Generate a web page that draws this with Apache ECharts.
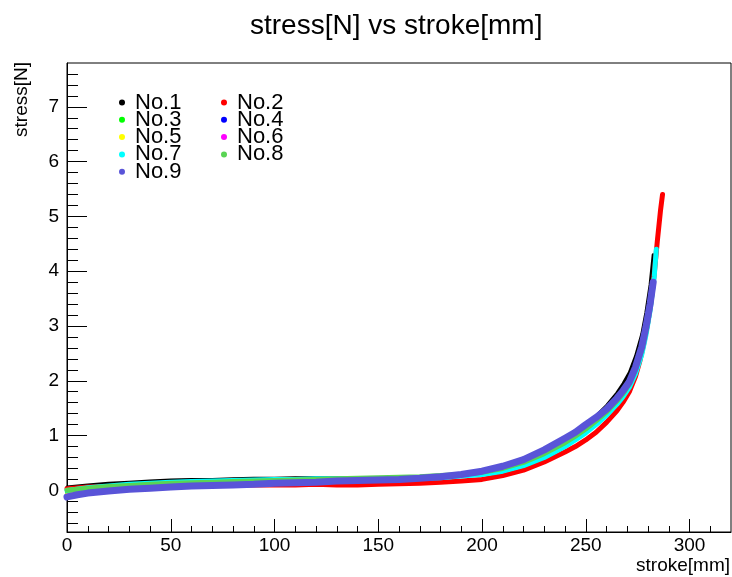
<!DOCTYPE html>
<html>
<head>
<meta charset="utf-8">
<script src="https://cdn.jsdelivr.net/npm/echarts@6/dist/echarts.min.js"></script>
<style>html,body{margin:0;padding:0;background:#fff;}#c{width:732px;height:577px;}</style>
</head>
<body>
<div id="c"></div>
<script>
// ---- data (stroke [mm], stress [N]) ----
const seriesNames = ['No.1','No.2','No.3','No.4','No.5','No.6','No.7','No.8','No.9'];
const legendCol1 = ['No.1','No.3','No.5','No.7','No.9'];
const legendCol2 = ['No.2','No.4','No.6','No.8'];

const no1 = [[0,0.06],[10,0.1],[20,0.13],[30,0.15],[40,0.17],[50,0.19],[60,0.2],[70,0.2],[80,0.21],[90,0.22],[100,0.22],[110,0.23],[120,0.23],[130,0.23],[140,0.23],[150,0.23],[160,0.24],[170,0.25],[180,0.27],[190,0.3],[200,0.35],[210,0.43],[220,0.55],[230,0.72],[240,0.93],[245,1.06],[250,1.2],[255,1.36],[260,1.55],[265,1.78],[268,1.95],[271,2.15],[274,2.45],[277,2.85],[279,3.25],[281,3.75],[282.5,4.3]];
const no2 = [[0,0.03],[10,0.06],[20,0.07],[30,0.08],[40,0.09],[50,0.09],[60,0.1],[70,0.1],[80,0.1],[90,0.1],[100,0.1],[110,0.1],[120,0.11],[130,0.1],[140,0.1],[150,0.11],[160,0.12],[170,0.13],[180,0.15],[190,0.17],[200,0.2],[210,0.27],[220,0.37],[230,0.52],[240,0.7],[245,0.8],[250,0.92],[255,1.06],[260,1.24],[265,1.45],[268,1.61],[271,1.8],[274,2.08],[276,2.35],[278,2.68],[280,3.08],[281.5,3.45],[283,3.95],[284.5,4.55],[286,5.1],[287,5.4]];
const no3 = [[0,-0.04],[10,0.0],[20,0.03],[40,0.07],[60,0.1],[80,0.12],[100,0.14],[120,0.16],[140,0.19],[160,0.21],[180,0.25],[200,0.33],[210,0.41],[220,0.53],[230,0.7],[240,0.9],[250,1.15],[260,1.46],[265,1.66],[268,1.8],[271,1.96],[274,2.22],[277,2.58],[279,2.93],[281,3.36]];
const no4 = [[0,-0.1],[10,-0.04],[20,0.0],[40,0.05],[60,0.08],[80,0.11],[100,0.13],[120,0.15],[140,0.18],[160,0.2],[180,0.25],[200,0.34],[210,0.43],[220,0.55],[230,0.72],[240,0.93],[250,1.18],[260,1.47],[265,1.67],[268,1.81],[271,1.97],[274,2.24],[277,2.6],[279,2.95],[281,3.38]];
const no5 = [[0,-0.08],[10,-0.03],[20,0.0],[40,0.04],[60,0.08],[80,0.1],[100,0.12],[120,0.15],[140,0.18],[160,0.2],[180,0.24],[200,0.34],[210,0.42],[220,0.54],[230,0.72],[240,0.93],[250,1.17],[260,1.46],[265,1.66],[268,1.8],[271,1.96],[274,2.23],[277,2.59],[279,2.94],[281,3.36]];
const no6 = [[0,-0.11],[10,-0.05],[20,-0.01],[40,0.04],[60,0.08],[80,0.1],[100,0.13],[120,0.15],[140,0.18],[160,0.2],[180,0.25],[200,0.35],[210,0.44],[220,0.56],[230,0.73],[240,0.94],[250,1.19],[260,1.48],[265,1.68],[268,1.82],[271,1.98],[274,2.25],[277,2.61],[279,2.96],[281,3.39]];
const no7 = [[0,0.0],[10,0.05],[20,0.08],[30,0.11],[40,0.13],[50,0.15],[60,0.16],[70,0.17],[80,0.18],[90,0.19],[100,0.2],[110,0.2],[120,0.21],[130,0.21],[140,0.21],[150,0.21],[160,0.21],[170,0.22],[180,0.23],[190,0.26],[200,0.29],[210,0.35],[220,0.45],[230,0.6],[240,0.8],[245,0.92],[250,1.05],[255,1.2],[260,1.37],[265,1.57],[268,1.71],[271,1.88],[274,2.13],[277,2.48],[279,2.83],[281,3.28],[283,3.9],[284,4.4]];
const no8 = [[0,0.0],[10,0.04],[20,0.07],[30,0.09],[40,0.11],[50,0.13],[60,0.14],[70,0.15],[80,0.16],[90,0.17],[100,0.18],[110,0.19],[120,0.2],[130,0.21],[140,0.22],[150,0.23],[160,0.24],[170,0.25],[180,0.27],[190,0.29],[200,0.33],[210,0.4],[220,0.51],[230,0.67],[240,0.87],[245,0.99],[250,1.12],[255,1.27],[260,1.43],[265,1.63],[268,1.77],[271,1.94],[274,2.2],[277,2.56],[279,2.9],[281,3.35],[282.5,3.75]];
const no9 = [[0,-0.12],[5,-0.08],[10,-0.05],[20,-0.01],[30,0.02],[40,0.04],[50,0.06],[60,0.08],[70,0.09],[80,0.1],[90,0.11],[100,0.13],[110,0.14],[120,0.15],[130,0.17],[140,0.18],[150,0.19],[160,0.2],[170,0.22],[180,0.25],[190,0.29],[200,0.35],[210,0.44],[220,0.56],[230,0.74],[240,0.95],[245,1.06],[250,1.2],[255,1.33],[260,1.48],[265,1.68],[268,1.82],[271,1.98],[274,2.25],[277,2.62],[279,2.98],[281,3.4],[282.5,3.8]];

const xMajorTicks = [0,50,100,150,200,250,300];
const xMinorTicks = [10,20,30,40,60,70,80,90,110,120,130,140,160,170,180,190,210,220,230,240,260,270,280,290,310];
const yMajorTicks = [0,1,2,3,4,5,6,7];
const yMinorTicks = [-0.6,-0.4,-0.2,0.2,0.4,0.6,0.8,1.2,1.4,1.6,1.8,2.2,2.4,2.6,2.8,3.2,3.4,3.6,3.8,4.2,4.4,4.6,4.8,5.2,5.4,5.6,5.8,6.2,6.4,6.6,6.8,7.2,7.4,7.6];

const seriesData = [no1,no2,no3,no4,no5,no6,no7,no8,no9];
const seriesColors = ['#000000','#ff0000','#00ff00','#0000ff','#ffff00','#ff00ff','#00ffff','#59d454','#5954d8'];
const seriesWidths = [3,5,4,4,4,4,5,5,7];

const FONT = 'Liberation Sans, Arial, Helvetica, sans-serif';
const chart = echarts.init(document.getElementById('c'), null, {renderer:'canvas'});

const xBase = {type:'value', min:0, max:320, gridIndex:0, position:'bottom', splitLine:{show:false}};
const yBase = {type:'value', min:-0.76, max:7.8, gridIndex:0, position:'left', splitLine:{show:false}};

const option = {
  backgroundColor:'#ffffff',
  animation:false,
  title:{text:'stress[N] vs stroke[mm]', left:250, top:12, padding:0,
    textStyle:{fontFamily:FONT, fontSize:28, fontWeight:'normal', color:'#000'}},
  grid:{left:67, right:1, top:63, bottom:45, show:true, borderColor:'#000', borderWidth:1, backgroundColor:'transparent'},
  legend:[
    {orient:'vertical', left:119, top:91.5, padding:0, itemWidth:6, itemHeight:6, itemGap:-4.7,
     icon:'circle', data:legendCol1, selectedMode:false,
     textStyle:{fontFamily:FONT, fontSize:22, lineHeight:17, color:'#000', padding:[0,0,0,5]}},
    {orient:'vertical', left:221, top:91.5, padding:0, itemWidth:6, itemHeight:6, itemGap:-4.7,
     icon:'circle', data:legendCol2, selectedMode:false,
     textStyle:{fontFamily:FONT, fontSize:22, lineHeight:17, color:'#000', padding:[0,0,0,5]}}
  ],
  xAxis:[
    Object.assign({}, xBase, {
      axisLine:{show:true, onZero:false, lineStyle:{color:'#000', width:1}},
      axisTick:{show:true, inside:true, length:13, customValues:xMajorTicks, lineStyle:{color:'#000'}},
      axisLabel:{show:true, customValues:xMajorTicks, margin:4, fontFamily:FONT, fontSize:19, color:'#000'}
    }),
    Object.assign({}, xBase, {
      axisLine:{show:false, onZero:false},
      axisTick:{show:true, inside:true, length:6, customValues:xMinorTicks, lineStyle:{color:'#000'}},
      axisLabel:{show:false}
    })
  ],
  yAxis:[
    Object.assign({}, yBase, {
      axisLine:{show:true, onZero:false, lineStyle:{color:'#000', width:1}},
      axisTick:{show:true, inside:true, length:20, customValues:yMajorTicks, lineStyle:{color:'#000'}},
      axisLabel:{show:true, customValues:yMajorTicks, margin:8, fontFamily:FONT, fontSize:19, color:'#000'}
    }),
    Object.assign({}, yBase, {
      axisLine:{show:false, onZero:false},
      axisTick:{show:true, inside:true, length:11, customValues:yMinorTicks, lineStyle:{color:'#000'}},
      axisLabel:{show:false}
    })
  ],
  graphic:[
    {type:'text', x:22, y:62, rotation:Math.PI/2,
     style:{text:'stress[N]', align:'right', verticalAlign:'middle', fontFamily:FONT, fontSize:19, fill:'#000'}},
    {type:'text', x:730, y:566,
     style:{text:'stroke[mm]', align:'right', verticalAlign:'middle', fontFamily:FONT, fontSize:19, fill:'#000'}}
  ],
  series: seriesNames.map((name,i)=>({
    name:name, type:'line', xAxisIndex:0, yAxisIndex:0,
    data:seriesData[i], showSymbol:false, symbol:'circle', symbolSize:6,
    smooth:false,
    color:seriesColors[i],
    itemStyle:{color:seriesColors[i]},
    lineStyle:{color:seriesColors[i], width:seriesWidths[i], cap:'round', join:'round'},
    emphasis:{disabled:true}
  }))
};
chart.setOption(option);
</script>
</body>
</html>
